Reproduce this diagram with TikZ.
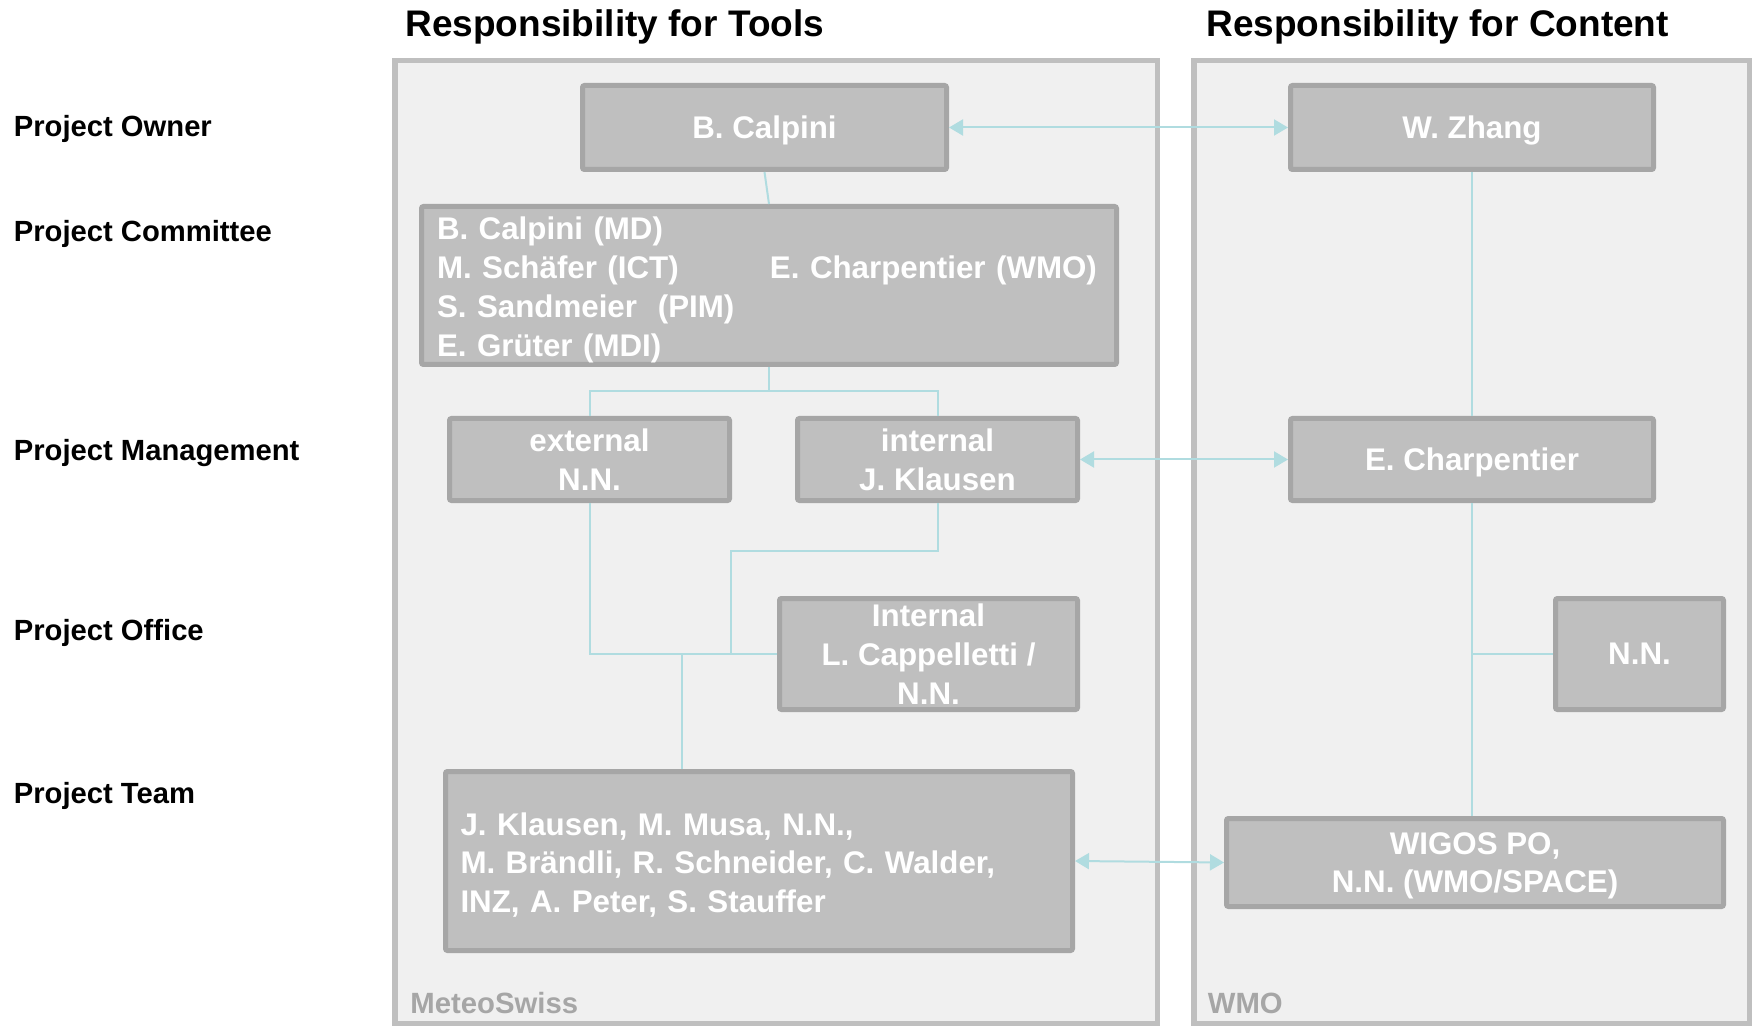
\documentclass[tikz,border=0pt]{standalone}
\usepackage{fontspec}
\setmainfont{Liberation Sans}
\usetikzlibrary{arrows.meta,calc}
\definecolor{panelfill}{HTML}{F0F0F0}
\definecolor{paneledge}{HTML}{BFBFBF}
\definecolor{boxfill}{HTML}{BFBFBF}
\definecolor{boxedge}{HTML}{A6A6A6}
\definecolor{linkteal}{HTML}{B0DCE0}
\newcommand{\firstline}[1]{\rule{0pt}{#1}}
\tikzset{panel/.style={draw=paneledge, fill=panelfill, line width=2.75pt}}
\tikzset{boxbase/.style={draw=boxedge, fill=boxfill, line width=2.5pt, rounded corners=1pt, text=white,
    inner sep=0pt, font=\bfseries\fontsize{15.65}{19.4}\selectfont}}
\tikzset{person/.style={boxbase, text depth=0pt, align=center}}
\tikzset{roster/.style={boxbase, align=left}}
\tikzset{link/.style={draw=linkteal, line width=1pt}}
\tikzset{pairlink/.style={link, {Triangle[length=7pt, width=8pt]}-{Triangle[length=7pt, width=8pt]}}}
\tikzset{rowlabel/.style={anchor=base west, inner sep=0pt, font=\bfseries\fontsize{14.6}{17}\selectfont}}
\tikzset{heading/.style={anchor=base west, inner sep=0pt, font=\bfseries\fontsize{18.5}{22}\selectfont}}
\tikzset{orglabel/.style={anchor=base west, inner sep=0pt, text=boxedge, font=\bfseries\fontsize{14.65}{17}\selectfont}}

\begin{document}
\begin{tikzpicture}[x=0.5pt, y=-0.5pt]
        \useasboundingbox (0,0) rectangle (1758,1027);

        % the two columns
        \draw [panel] (394.75,60.75) rectangle (1157.25,1023.25);
        \draw [panel] (1193.75,60.75) rectangle (1749.25,1023.25);
        \node[heading] (htools) at (405,37) {Responsibility for Tools};
        \node[heading] (hcontent) at (1206,37) {Responsibility for Content};
        \node[orglabel] (lmeteo) at (410,1013) {MeteoSwiss};
        \node[orglabel] (lwmo) at (1207.5,1013) {WMO};

        % rows
        \node[rowlabel] (rowner) at (13.5,137) {Project Owner};
        \node[rowlabel] (rcommittee) at (13.5,242) {Project Committee};
        \node[rowlabel] (rmanagement) at (13.5,460.5) {Project Management};
        \node[rowlabel] (roffice) at (13.5,640.5) {Project Office};
        \node[rowlabel] (rteam) at (13.5,803.5) {Project Team};

        % MeteoSwiss side
        \node[person, minimum width=182pt, minimum height=42pt] (calpini) at (764.5,127.5) {B. Calpini};
        \node[roster, text width=332pt, inner xsep=7.75pt, minimum height=79pt] (committee) at (769,285.5)
        {\firstline{15.9pt}\makebox[166.5pt][l]{B. Calpini (MD)}\\
         \makebox[166.5pt][l]{M. Schäfer (ICT)}E. Charpentier (WMO)\\
         S. Sandmeier\ \ (PIM)\\
         E. Grüter (MDI)};
        \node[person, minimum width=140pt, minimum height=41pt] (external) at (589.5,459.5) {external\\N.N.};
        \node[person, minimum width=140pt, minimum height=41pt] (internal) at (937.5,459.5) {internal\\J. Klausen};
        \node[person, minimum width=149pt, minimum height=55.5pt] (office) at (928.5,654) {Internal\\L. Cappelletti /\\N.N.};
        \node[roster, text width=298.5pt, inner xsep=7.5pt, minimum height=89.5pt] (team) at (759,861)
        {\firstline{15.3pt}J. Klausen, M. Musa, N.N.,\\
         M. Brändli, R. Schneider, C. Walder,\\
         INZ, A. Peter, S. Stauffer};

        % WMO side
        \node[person, minimum width=181.5pt, minimum height=42pt] (zhang) at (1472,127.5) {W. Zhang};
        \node[person, minimum width=181.5pt, minimum height=41pt] (charp) at (1472,459.5) {E. Charpentier};
        \node[person, minimum width=84pt, minimum height=55.5pt] (nn) at (1639.5,654) {N.N.};
        \node[person, minimum width=248.5pt, minimum height=44pt] (wigos) at (1475,862.5) {WIGOS PO,\\N.N. (WMO/SPACE)};

        % connectors
        \coordinate (cbus) at ($(committee.south)+(0,24)$);
        \coordinate (ojoin) at (731,654);
        \coordinate (tjoin) at (682,654);
        \draw [link] (calpini.south) -- (committee.north);
        \draw [link] (committee.south) -- (cbus);
        \draw [link] (external.north) |- (cbus) -| (internal.north);
        \draw [link] (external.south) |- (office.west);
        \draw [link] (internal.south) -- ++(0,47.5) -| (ojoin);
        \draw [link] (tjoin) -- (tjoin |- team.north);
        \draw [link] (zhang) -- (charp);
        \draw [link] (charp.south) -- (charp.south |- wigos.north);
        \draw [link] (charp.south |- nn.west) -- (nn.west);

        \draw [pairlink] (calpini) -- (zhang);
        \draw [pairlink] (internal) -- (charp);
        \draw [pairlink] (team.east) -- (wigos.west);
    \end{tikzpicture}
\end{document}
